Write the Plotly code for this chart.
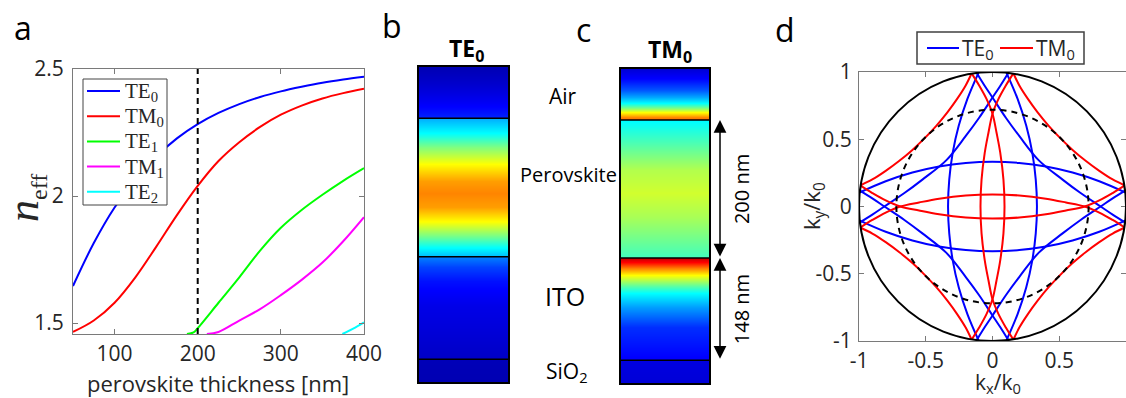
import plotly.graph_objects as go

W, H = 1126, 398

# ---------------- panel a : effective index vs thickness ----------------
THICK_0 = [50, 75, 100, 125, 150, 175, 200, 225, 250, 275, 300, 325, 350, 375, 400]
TE0_N = [1.646, 1.815, 1.955, 2.065, 2.155, 2.227, 2.283, 2.327, 2.362, 2.39, 2.412, 2.43, 2.446, 2.459, 2.47]
TM0_N = [1.465, 1.51, 1.58, 1.68, 1.80, 1.925, 2.04, 2.138, 2.212, 2.272, 2.32, 2.356, 2.384, 2.405, 2.422]
TE1_T = [187, 195, 200, 225, 250, 275, 300, 325, 350, 375, 400]
TE1_N = [1.457, 1.463, 1.48, 1.58, 1.68, 1.785, 1.875, 1.945, 2.005, 2.06, 2.11]
TM1_T = [211, 225, 250, 275, 300, 325, 350, 375, 400]
TM1_N = [1.457, 1.465, 1.51, 1.555, 1.61, 1.67, 1.738, 1.822, 1.917]
TE2_T = [374, 387, 400]
TE2_N = [1.457, 1.478, 1.503]
SELECTED_THICKNESS = 200
MODE_NAMES = ['TE<sub>0</sub>', 'TM<sub>0</sub>', 'TE<sub>1</sub>', 'TM<sub>1</sub>', 'TE<sub>2</sub>']

# ---------------- panels b, c : field profiles (jet colour value 0..1) ----------------
LAYER_BOUNDS = [0, 200, 348]          # nm : air|perovskite, perovskite|ITO, ITO|SiO2
DEPTH_RANGE = [-74, 381]
TE0_DEPTH = [-74, -50, -30, -15, -0.5, 0.5, 22, 41, 66, 90, 108, 128, 150, 168, 186, 199.5,
             200.5, 215, 235, 270, 310, 347.5, 348.5, 381]
TE0_FIELD = [0.04, 0.07, 0.10, 0.13, 0.16, 0.30, 0.375, 0.50, 0.625, 0.72, 0.745, 0.72, 0.62, 0.50, 0.38, 0.31,
             0.25, 0.19, 0.14, 0.10, 0.08, 0.06, 0.045, 0.04]
TM0_DEPTH = [-74, -60, -43, -34, -25, -17, -11, -5, -0.5, 0.5, 4, 33, 72, 106, 140, 169, 193, 199.5,
             200.5, 206, 214, 225, 242, 251, 271, 300, 347.5, 348.5, 381]
TM0_FIELD = [0.08, 0.13, 0.21, 0.29, 0.375, 0.50, 0.62, 0.74, 0.78, 0.37, 0.38, 0.45, 0.55, 0.58, 0.54, 0.49, 0.45, 0.44,
             0.93, 0.875, 0.75, 0.625, 0.45, 0.375, 0.28, 0.17, 0.12, 0.09, 0.08]

# ---------------- panel d : iso-frequency arcs (one arc per family, 4-fold symmetric) ----------------
TE_AXIS_X = [-0.105, -0.188, -0.253, -0.298, -0.324, -0.333, -0.324, -0.298, -0.253, -0.188, -0.105]
TE_AXIS_Y = [-0.994, -0.8, -0.6, -0.4, -0.2, 0.0, 0.2, 0.4, 0.6, 0.8, 0.994]
TE_DIAG_X = [-0.118, -0.06, 0.0, 0.1, 0.2, 0.345, 0.525, 0.66, 0.81, 0.9, 0.993]
TE_DIAG_Y = [0.993, 0.9, 0.81, 0.66, 0.525, 0.345, 0.2, 0.1, 0.0, -0.06, -0.118]
TM_AXIS_X = [0.155, 0.1, 0.045, 0.0, -0.03, -0.058, -0.082, -0.09, -0.082, -0.058, -0.03, 0.0, 0.045, 0.1, 0.155]
TM_AXIS_Y = [-0.988, -0.9, -0.8, -0.69, -0.55, -0.4, -0.2, 0.0, 0.2, 0.4, 0.55, 0.69, 0.8, 0.9, 0.988]
TM_DIAG_X = [-0.987, -0.9, -0.8, -0.7, -0.6, -0.508, -0.421, -0.338, -0.265, -0.201, -0.158]
TM_DIAG_Y = [0.158, 0.201, 0.265, 0.338, 0.421, 0.508, 0.6, 0.7, 0.8, 0.9, 0.987]
LIGHT_CONE_R = 1.0
DASHED_R = 0.72

BLUE, RED, GREEN, MAGENTA, CYAN = '#0000FF', '#FF0000', '#00FF00', '#FF00FF', '#00FFFF'
AXC = '#7a7a7a'
TXT = '#262626'
JET = [[0, 'rgb(0,0,143)'], [0.125, 'rgb(0,0,255)'], [0.375, 'rgb(0,255,255)'],
       [0.625, 'rgb(255,255,0)'], [0.875, 'rgb(255,0,0)'], [1, 'rgb(128,0,0)']]
sans = 'Open Sans'
serif = 'Liberation Serif'


def px(p):
    return p / W


def py(p):
    return 1 - p / H


fig = go.Figure()

# panel a
series_a = [(THICK_0, TE0_N, BLUE), (THICK_0, TM0_N, RED), (TE1_T, TE1_N, GREEN),
            (TM1_T, TM1_N, MAGENTA), (TE2_T, TE2_N, CYAN)]
for name, (t, n, c) in zip(MODE_NAMES, series_a):
    fig.add_trace(go.Scatter(x=t, y=n, mode='lines', name=name, xaxis='x', yaxis='y', showlegend=False,
                             line=dict(color=c, width=2, shape='spline'), hoverinfo='skip'))

# panels b, c
for depth, field, xa, ya in [(TE0_DEPTH, TE0_FIELD, 'x2', 'y2'), (TM0_DEPTH, TM0_FIELD, 'x3', 'y3')]:
    fig.add_trace(go.Heatmap(x=[0, 1], y=depth, z=[[v, v] for v in field], colorscale=JET, zmin=0, zmax=1,
                             zsmooth='best', showscale=False, xaxis=xa, yaxis=ya, hoverinfo='skip'))


def rotated(xs, ys):
    X, Y = [], []
    for k in range(4):
        for x, y in zip(xs, ys):
            for _ in range(k):
                x, y = -y, x
            X.append(x)
            Y.append(y)
        X.append(None)
        Y.append(None)
    return X, Y


series_d = [('TE<sub>0</sub>', [(TE_AXIS_X, TE_AXIS_Y), (TE_DIAG_X, TE_DIAG_Y)], BLUE),
            ('TM<sub>0</sub>', [(TM_AXIS_X, TM_AXIS_Y), (TM_DIAG_X, TM_DIAG_Y)], RED)]
for name, fam, c in series_d:
    X, Y = [], []
    for xs, ys in fam:
        a, b = rotated(xs, ys)
        X += a
        Y += b
    fig.add_trace(go.Scatter(x=X, y=Y, mode='lines', name=name, xaxis='x4', yaxis='y4', showlegend=False,
                             line=dict(color=c, width=2, shape='spline'), connectgaps=False, hoverinfo='skip'))

shapes = []
shapes.append(dict(type='line', xref='x', yref='y domain', x0=SELECTED_THICKNESS, x1=SELECTED_THICKNESS,
                   y0=0, y1=1, line=dict(color='black', width=2, dash='6px,4px')))
for xa, ya in [('x2', 'y2'), ('x3', 'y3')]:
    for b in LAYER_BOUNDS:
        shapes.append(dict(type='line', xref=xa + ' domain', yref=ya, x0=0, x1=1, y0=b, y1=b,
                           line=dict(color='black', width=1.5)))
shapes.append(dict(type='circle', xref='x4', yref='y4', x0=-LIGHT_CONE_R, x1=LIGHT_CONE_R,
                   y0=-LIGHT_CONE_R, y1=LIGHT_CONE_R, line=dict(color='black', width=2)))
shapes.append(dict(type='circle', xref='x4', yref='y4', x0=-DASHED_R, x1=DASHED_R,
                   y0=-DASHED_R, y1=DASHED_R, line=dict(color='black', width=2, dash='6px,5px')))

ann = []

# legend of panel a (drawn by hand for exact placement)
shapes.append(dict(type='rect', xref='paper', yref='paper', x0=px(83), x1=px(167), y0=py(205), y1=py(79),
                   fillcolor='white', line=dict(color='#444', width=1)))
for i, (name, (_, _, c)) in enumerate(zip(MODE_NAMES, series_a)):
    yy = 91 + 25.2 * i
    shapes.append(dict(type='line', xref='paper', yref='paper', x0=px(87), x1=px(120), y0=py(yy), y1=py(yy),
                       line=dict(color=c, width=2)))
    ann.append(dict(text=name, x=px(123), y=py(yy + 1), xref='paper', yref='paper', showarrow=False,
                    xanchor='left', yanchor='middle', font=dict(family=serif, size=21, color=TXT)))

# legend of panel d
shapes.append(dict(type='rect', xref='paper', yref='paper', x0=px(917), x1=px(1084), y0=py(64), y1=py(32),
                   fillcolor='white', line=dict(color='#404040', width=1.5)))
for (name, _, c), x0, x1 in zip(series_d, [927, 1000], [959, 1033]):
    shapes.append(dict(type='line', xref='paper', yref='paper', x0=px(x0), x1=px(x1), y0=py(48), y1=py(48),
                       line=dict(color=c, width=2)))
    ann.append(dict(text=name, x=px(x1 + 1), y=py(49), xref='paper', yref='paper', showarrow=False,
                    xanchor='left', yanchor='middle', font=dict(family=sans, size=21, color=TXT)))

tickfont = dict(family=sans, size=21, color=TXT)
std = dict(ticks='inside', ticklen=5, tickcolor=AXC, showline=True, linecolor=AXC, linewidth=1,
           mirror='ticks', showgrid=False, zeroline=False, tickfont=tickfont, automargin=False)
box = dict(showline=True, linecolor='black', linewidth=2, mirror=True, showgrid=False, zeroline=False,
           showticklabels=False, ticks='', automargin=False)

for lbl, x, y in [('a', 23, 27), ('b', 392, 26), ('c', 583, 30), ('d', 785, 30)]:
    ann.append(dict(text=lbl, x=px(x), y=py(y), xref='paper', yref='paper', showarrow=False,
                    xanchor='center', yanchor='middle', font=dict(family=sans, size=32, color='black')))
ann.append(dict(text='perovskite thickness [nm]', x=px(218), y=py(383), xref='paper', yref='paper',
                showarrow=False, xanchor='center', yanchor='middle', borderpad=0,
                font=dict(family=sans, size=22, color=TXT)))
ann.append(dict(text='<i>n</i><sub><span style="font-size:24px">eff</span></sub>', x=px(25), y=py(198),
                xref='paper', yref='paper', textangle=-90, showarrow=False, xanchor='center', yanchor='middle',
                font=dict(family=serif, size=44, color=TXT)))
ann.append(dict(text='<b>TE<sub>0</sub></b>', x=px(466), y=py(50), xref='paper', yref='paper', showarrow=False,
                xanchor='center', yanchor='middle', font=dict(family=sans, size=23, color='black')))
ann.append(dict(text='<b>TM<sub>0</sub></b>', x=px(670), y=py(51), xref='paper', yref='paper', showarrow=False,
                xanchor='center', yanchor='middle', font=dict(family=sans, size=23, color='black')))
for t, x, y, s in [('Air', 563, 96, 21), ('Perovskite', 568, 174, 20), ('ITO', 565, 296, 25),
                   ('SiO<sub>2</sub>', 567, 372, 21)]:
    ann.append(dict(text=t, x=px(x), y=py(y), xref='paper', yref='paper', showarrow=False,
                    xanchor='center', yanchor='middle', font=dict(family=sans, size=s, color='black')))
for t, y0, y1 in [('200 nm', LAYER_BOUNDS[0], LAYER_BOUNDS[1]), ('148 nm', LAYER_BOUNDS[1], LAYER_BOUNDS[2])]:
    ann.append(dict(text='', x=px(720), y=y0, xref='paper', yref='y3', ax=0, ay=y1, axref='pixel', ayref='y3',
                    showarrow=True, arrowhead=2, startarrowhead=2, arrowside='end+start', arrowsize=1.7,
                    startarrowsize=1.7, arrowwidth=1.5, arrowcolor='black', standoff=0, startstandoff=0))
    ann.append(dict(text=t, x=px(741), y=(y0 + y1) / 2, xref='paper', yref='y3', textangle=-90, showarrow=False,
                    xanchor='center', yanchor='middle', font=dict(family=sans, size=20, color='black')))
ann.append(dict(text='k<sub>y</sub>/k<sub>0</sub>', x=px(813), y=py(206), xref='paper', yref='paper',
                textangle=-90, showarrow=False, xanchor='center', yanchor='middle',
                font=dict(family=sans, size=22, color=TXT)))
ann.append(dict(text='k<sub>x</sub>/k<sub>0</sub>', x=px(998), y=py(383), xref='paper', yref='paper',
                showarrow=False, xanchor='center', yanchor='middle', borderpad=0,
                font=dict(family=sans, size=21, color=TXT)))

fig.update_layout(
    width=W, height=H, autosize=False, margin=dict(l=0, r=0, t=0, b=0, pad=0, autoexpand=False),
    paper_bgcolor='white', plot_bgcolor='white', font=dict(family=sans, color=TXT), showlegend=False,
    xaxis=dict(domain=[px(73), px(364)], anchor='y', range=[50, 400], tickvals=[100, 200, 300, 400],
               ticklabelstandoff=1, **std),
    yaxis=dict(domain=[py(334), py(69)], anchor='x', range=[1.457, 2.5], tickvals=[1.5, 2, 2.5],
               ticktext=['1.5', '2', '2.5'], ticklabelstandoff=4, **std),
    xaxis2=dict(domain=[px(419), px(508)], anchor='y2', range=[-0.5, 1.5], **box),
    yaxis2=dict(domain=[py(382), py(67)], anchor='x2', range=[DEPTH_RANGE[1], DEPTH_RANGE[0]], **box),
    xaxis3=dict(domain=[px(621), px(709)], anchor='y3', range=[-0.5, 1.5], **box),
    yaxis3=dict(domain=[py(383), py(69)], anchor='x3', range=[DEPTH_RANGE[1], DEPTH_RANGE[0]], **box),
    xaxis4=dict(domain=[px(859), 1.0], anchor='y4', range=[-1, 1], tickvals=[-1, -0.5, 0, 0.5, 1],
                ticktext=['-1', '-0.5', '0', '0.5', ''], ticklabelstandoff=1, **std),
    yaxis4=dict(domain=[py(341), py(72)], anchor='x4', range=[-1, 1], tickvals=[-1, -0.5, 0, 0.5, 1],
                ticktext=['-1', '-0.5', '0', '0.5', '1'], ticklabelstandoff=2, **std),
    shapes=shapes, annotations=ann,
)

fig.write_html('out.html')
